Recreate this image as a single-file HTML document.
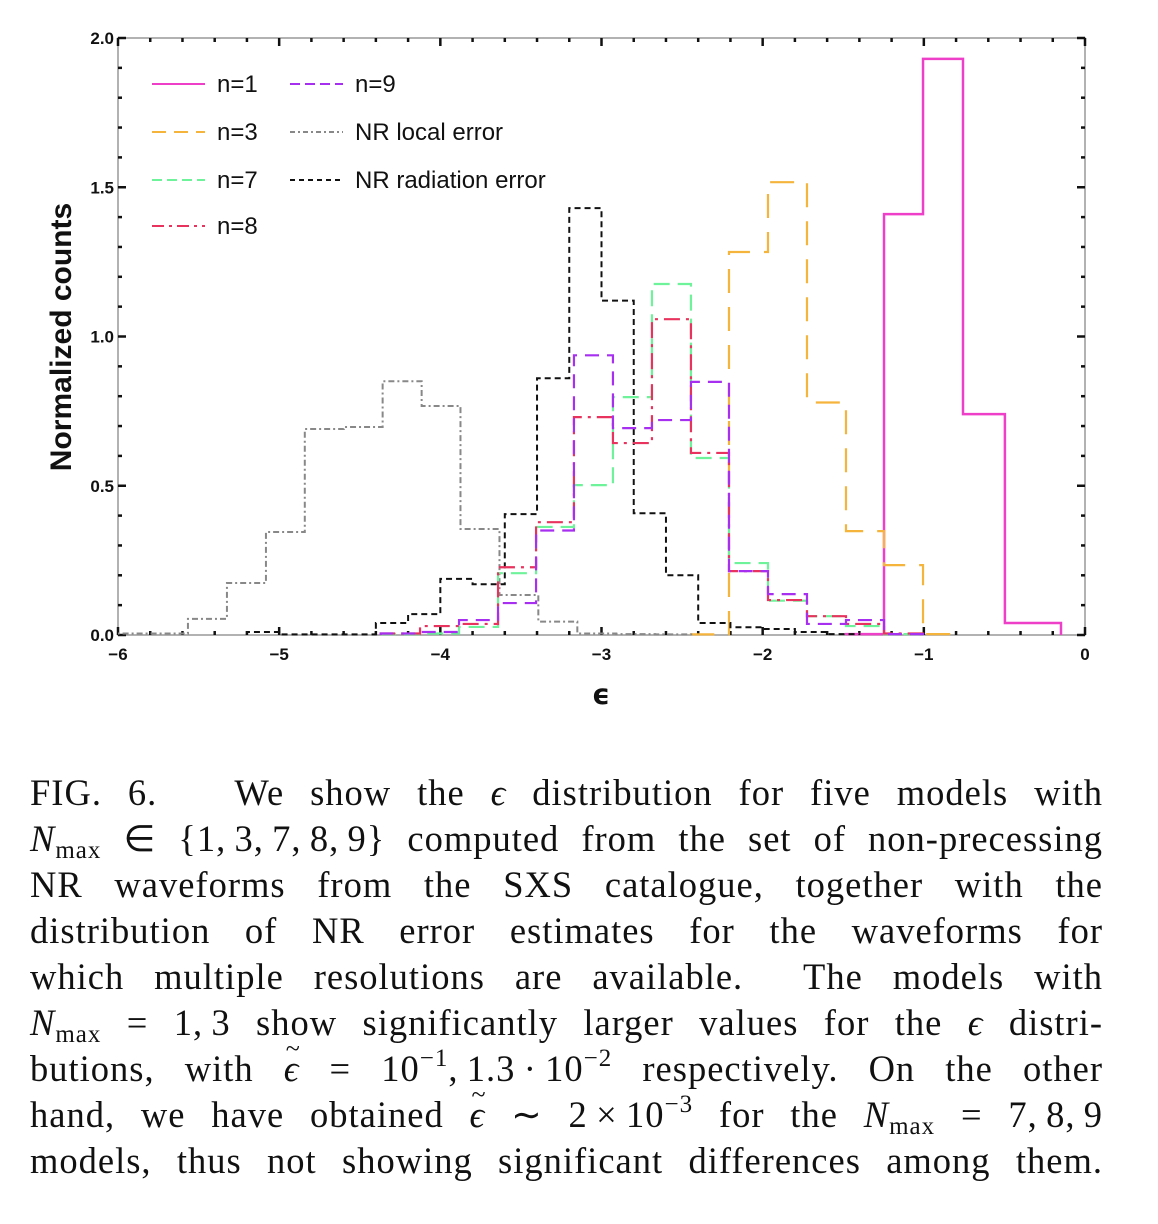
<!DOCTYPE html>
<html><head><meta charset="utf-8">
<style>
html,body{margin:0;padding:0;background:#fff;}
body{width:1158px;height:1224px;position:relative;overflow:hidden;}
#chart{position:absolute;left:0;top:0;}
#caption{position:absolute;left:30px;top:770px;width:1073px;font-family:"Liberation Serif",serif;font-size:36.5px;letter-spacing:1px;line-height:46px;color:#111;}
#caption .ln{text-align:justify;text-align-last:justify;white-space:nowrap;height:46px;}
sub{font-size:25px;vertical-align:-7px;line-height:0;font-style:normal;}
sup{font-size:25px;vertical-align:15px;line-height:0;}
i{font-style:italic;}
.tl{position:relative;display:inline-block;}
.tl::after{content:"~";position:absolute;left:2px;top:-20px;font-size:26px;font-style:normal;}
</style></head>
<body>
<svg id="chart" width="1158" height="760">
  <defs><clipPath id="clip"><rect x="118" y="38" width="967" height="598"/></clipPath></defs>
  <rect x="118" y="38" width="967" height="597" fill="none" stroke="#999" stroke-width="1.5"/>
  <g id="ticks"></g>
  <g id="series" clip-path="url(#clip)"></g>
  <text x="71" y="337" transform="rotate(-90 71 337)" text-anchor="middle" font-family="Liberation Sans, sans-serif" font-weight="bold" font-size="30" fill="#111">Normalized counts</text>
  <text x="601" y="704" text-anchor="middle" font-family="DejaVu Sans, sans-serif" font-weight="bold" font-size="28" fill="#111">ϵ</text>
  <g id="legend" font-family="Liberation Sans, sans-serif" font-size="24" fill="#111"></g>
</svg>
<div id="caption">
<div class="ln">FIG. 6. &nbsp; We show the <i>ϵ</i> distribution for five models with</div>
<div class="ln"><i>N</i><sub>max</sub> ∈ {1,&#8201;3,&#8201;7,&#8201;8,&#8201;9} computed from the set of non-precessing</div>
<div class="ln">NR waveforms from the SXS catalogue, together with the</div>
<div class="ln">distribution of NR error estimates for the waveforms for</div>
<div class="ln">which multiple resolutions are available. &nbsp;The models with</div>
<div class="ln"><i>N</i><sub>max</sub> = 1,&#8201;3 show significantly larger values for the <i>ϵ</i> distri-</div>
<div class="ln">butions, with <i class="tl">ϵ</i> = 10<sup>−1</sup>,&#8201;1.3&#8201;·&#8201;10<sup>−2</sup> respectively. On the other</div>
<div class="ln">hand, we have obtained <i class="tl">ϵ</i> ∼ 2&#8201;×&#8201;10<sup>−3</sup> for the <i>N</i><sub>max</sub> = 7,&#8201;8,&#8201;9</div>
<div class="ln">models, thus not showing significant differences among them.</div>
</div>
<script>
const xTicks = [-6,-5,-4,-3,-2,-1,0];
const yTicks = [0.0,0.5,1.0,1.5,2.0];
const yTickLabels = ["0.0","0.5","1.0","1.5","2.0"];
const legendLabels = ["n=1","n=3","n=7","n=8","n=9","NR local error","NR radiation error"];

const edgesN1 = [-1.483,-1.247,-1.005,-0.757,-0.497,-0.149];
const countsN1 = [0.003,1.41,1.93,0.74,0.04];
const edgesN3 = [-2.445,-2.209,-1.967,-1.725,-1.483,-1.247,-1.005,-0.757];
const countsN3 = [0.002,1.283,1.517,0.779,0.348,0.234,0.003];
const edgesMid = [-4.37,-4.126,-3.884,-3.642,-3.406,-3.171,-2.929,-2.687,-2.445,-2.209,-1.967,-1.725,-1.483,-1.247,-1.005];
const countsN7 = [0.003,0.005,0.027,0.207,0.362,0.502,0.797,1.176,0.593,0.241,0.115,0.063,0.03,0.003];
const countsN8 = [0.005,0.03,0.037,0.227,0.378,0.73,0.643,1.058,0.61,0.214,0.117,0.063,0.037,0.005];
const countsN9 = [0.005,0.01,0.05,0.107,0.35,0.937,0.693,0.72,0.848,0.214,0.137,0.037,0.05,0.003];
const edgesLocal = [-6.049,-5.807,-5.566,-5.324,-5.082,-4.841,-4.599,-4.358,-4.116,-3.875,-3.633,-3.392,-3.150,-2.908,-2.667,-2.425];
const countsLocal = [0.005,0.005,0.054,0.174,0.345,0.69,0.697,0.85,0.767,0.355,0.134,0.045,0.005,0.003,0.002];
const edgesRad = [-5.2,-5.0,-4.8,-4.6,-4.4,-4.2,-4.0,-3.8,-3.6,-3.4,-3.2,-3.0,-2.8,-2.6,-2.4,-2.2,-2.0,-1.8,-1.6,-1.4];
const countsRad = [0.01,0.002,0.002,0.002,0.04,0.07,0.188,0.17,0.405,0.86,1.43,1.12,0.408,0.2,0.04,0.026,0.02,0.01,0.003];

const NS="http://www.w3.org/2000/svg";
const X0=118,X1=1085,Y0=635,Y1=38;
function sx(v){return X0+(v+6)/6*(X1-X0);}
function sy(v){return Y0-v/2*(Y0-Y1);}
function mk(tag,attrs,parent){const e=document.createElementNS(NS,tag);for(const k in attrs)e.setAttribute(k,attrs[k]);parent.appendChild(e);return e;}

const tg=document.getElementById('ticks');
for(let i=0;i<=30;i++){
  const v=-6+i*0.2, x=sx(v), major=(i%5===0);
  const l=major?8:4;
  let t=mk('line',{x1:x,y1:Y0,x2:x,y2:Y0-l,stroke:'#111','stroke-width':2.5},tg);
  
  
  let t2=mk('line',{x1:x,y1:Y1,x2:x,y2:Y1+l,stroke:'#111','stroke-width':2.5},tg);
  
  
}
for(let i=0;i<=20;i++){
  const v=i*0.1, y=sy(v), major=(i%5===0);
  const l=major?8:4;
  let t=mk('line',{x1:X0,y1:y,x2:X0+l,y2:y,stroke:'#111','stroke-width':2.5},tg);
  
  
  let t2=mk('line',{x1:X1,y1:y,x2:X1-l,y2:y,stroke:'#111','stroke-width':2.5},tg);
  
  
}
xTicks.forEach(v=>{
  const t=mk('text',{x:sx(v),y:660,'text-anchor':'middle','font-family':'Liberation Sans, sans-serif','font-weight':'bold','font-size':17,fill:'#111'},tg);
  t.textContent=(v<0?'−'+(-v):String(v));
  
  
});
yTicks.forEach((v,i)=>{
  const t=mk('text',{x:114,y:sy(v)+6,'text-anchor':'end','font-family':'Liberation Sans, sans-serif','font-weight':'bold','font-size':17,fill:'#111'},tg);
  t.textContent=yTickLabels[i];
  
  
});

const styles=[
  {name:'n1',edges:edgesN1,counts:countsN1,color:'#ee3fc8',dash:'',w:2.5},
  {name:'n3',edges:edgesN3,counts:countsN3,color:'#f5b43c',dash:'24,14',w:2.2},
  {name:'local',edges:edgesLocal,counts:countsLocal,color:'#888',dash:'6,3,2,3',w:2},
  {name:'rad',edges:edgesRad,counts:countsRad,color:'#111',dash:'6,4',w:2},
  {name:'n7',edges:edgesMid,counts:countsN7,color:'#6ef29a',dash:'16,8',w:2.2},
  {name:'n8',edges:edgesMid,counts:countsN8,color:'#e8335e',dash:'16,6,3,6',w:2.2},
  {name:'n9',edges:edgesMid,counts:countsN9,color:'#a62ff0',dash:'14,8',w:2.2}
];
const sg=document.getElementById('series');
styles.forEach(s=>{
  let d='M'+sx(s.edges[0])+','+sy(0);
  s.counts.forEach((c,i)=>{d+=' V'+sy(c)+' H'+sx(s.edges[i+1]);});
  d+=' V'+sy(0);
  const p=mk('path',{d:d,fill:'none',stroke:s.color,'stroke-width':s.w,'stroke-dasharray':s.dash},sg);
  
  
});

const lg=document.getElementById('legend');
const legStyles=[styles[0],styles[1],styles[4],styles[5],styles[6],styles[2],styles[3]];
const legDash={n1:'',n3:'14,8',n7:'10,5',n8:'12,5,3,5',n9:'10,5',local:'5,3,2,3',rad:'5,4'};
const legPos=[[152,84],[152,132],[152,180],[152,226],[290,84],[290,132],[290,180]];
legStyles.forEach((s,i)=>{
  const [x,y]=legPos[i];
  const ln=mk('line',{x1:x,y1:y,x2:x+53,y2:y,stroke:s.color,'stroke-width':2,'stroke-dasharray':legDash[s.name]},lg);
  
  
  const t=mk('text',{x:x+65,y:y+8},lg);
  t.textContent=legendLabels[i];
  
  
});
</script>
</body></html>
